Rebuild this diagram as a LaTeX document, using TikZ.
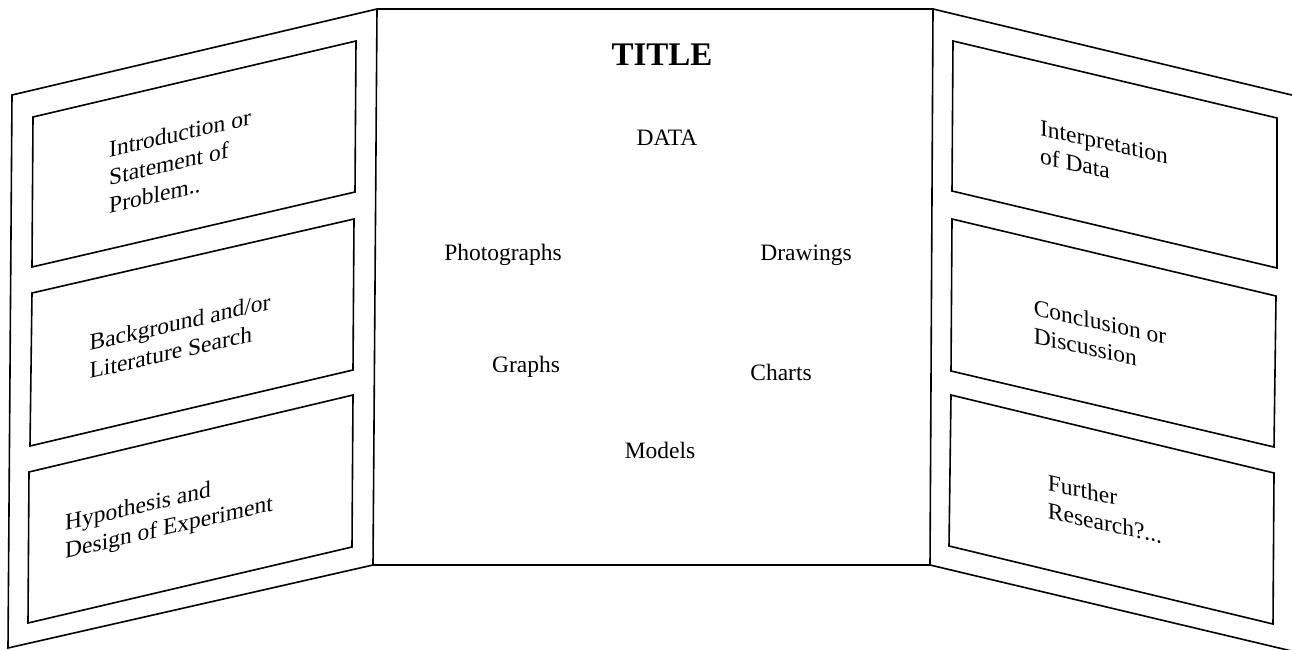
\documentclass[tikz,border=0pt]{standalone}
\usepackage{fontspec}
\setmainfont{Liberation Serif}
\begin{document}
\begin{tikzpicture}[x=1pt,y=-1pt,
  panel/.style={draw=black, line width=1.6pt, line join=miter},
  card/.style={draw=black, line width=1.6pt, line join=miter},
  lbl/.style={font=\fontsize{23.5}{28}\selectfont, align=left, inner sep=0pt},
  leftwing/.style={lbl, yslant=0.23},
  rightwing/.style={lbl, yslant=-0.22},
  word/.style={font=\fontsize{23.5}{28}\selectfont, inner sep=0pt},
  heading/.style={font=\bfseries\fontsize{33}{36}\selectfont, inner sep=0pt}]
\clip (0,0) rectangle (1292,650);
\fill[white] (0,0) rectangle (1292,650);

% three panels of the display board
\draw[panel] (12,95) -- (377,9) -- (373,565) -- (8,648) -- cycle;
\draw[panel] (377,9) -- (933,9) -- (930,565) -- (373,565);
\draw[panel] (933,9) -- (1300,97) -- (1300,653) -- (930,565);

% cards on the left wing
\draw[card] (33,117) -- (356,41) -- (355,192) -- (32,267) -- cycle;
\draw[card] (32,293) -- (354,219) -- (353,370) -- (30,446) -- cycle;
\draw[card] (29,472) -- (353,395) -- (352,547) -- (28,623) -- cycle;

% cards on the right wing
\draw[card] (953,41) -- (1277,118) -- (1277,268) -- (952,191) -- cycle;
\draw[card] (952,219) -- (1276,296) -- (1274,447) -- (951,371) -- cycle;
\draw[card] (951,395) -- (1274,473) -- (1273,624) -- (949,546) -- cycle;

% left wing texts
\node[leftwing] (intro) at (180,161) {Introduction or\\Statement of\\Problem..};
\node[leftwing] (backg) at (180,336) {Background and/or\\Literature Search};
\node[leftwing] (hypo) at (169,515) {Hypothesis and\\Design of Experiment};

% right wing texts
\node[rightwing] (interp) at (1104,156) {Interpretation\\of Data};
\node[rightwing] (concl) at (1100,336) {Conclusion or\\Discussion};
\node[rightwing] (further) at (1105,509) {Further\\Research?...};

% centre panel texts
\node[heading] (title) at (662,55) {TITLE};
\node[word] (data) at (667,138) {DATA};
\node[word] (photo) at (503,255) {Photographs};
\node[word] (draw) at (806,255) {Drawings};
\node[word] (graphs) at (526,367) {Graphs};
\node[word] (charts) at (781,372) {Charts};
\node[word] (models) at (660,450) {Models};
\end{tikzpicture}
\end{document}
